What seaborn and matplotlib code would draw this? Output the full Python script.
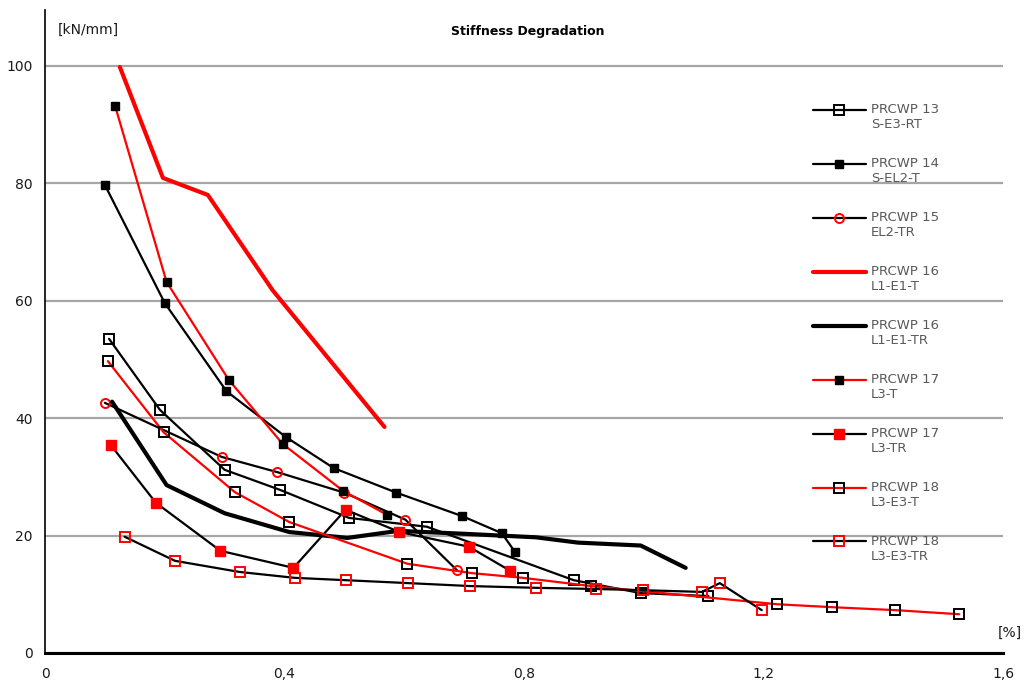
import matplotlib
matplotlib.use("Agg")
import matplotlib.pyplot as plt
import seaborn as sns
import pandas as pd

sns.set_style("white")
plt.rcParams['font.family'] = ['DejaVu Sans']

# ---- data (drift [%] vs stiffness [kN/mm]) ----
p13_x = [0.107, 0.192, 0.300, 0.392, 0.508, 0.638, 0.883, 0.995, 1.108]
p13_y = [53.5, 41.4, 31.2, 27.8, 23.0, 21.5, 12.4, 10.2, 9.7]

p14_x = [0.100, 0.200, 0.303, 0.402, 0.482, 0.587, 0.697, 0.763, 0.785]
p14_y = [79.7, 59.6, 44.6, 36.8, 31.5, 27.3, 23.3, 20.4, 17.2]

p15_x = [0.100, 0.295, 0.388, 0.500, 0.602, 0.688]
p15_y = [42.6, 33.4, 30.8, 27.3, 22.7, 14.1]

p16t_x = [0.125, 0.197, 0.272, 0.380, 0.567]
p16t_y = [99.8, 80.9, 78.0, 61.8, 38.5]

p16tr_x = [0.112, 0.203, 0.300, 0.408, 0.505, 0.590, 0.700, 0.820, 0.890, 0.995, 1.070]
p16tr_y = [42.8, 28.6, 23.8, 20.6, 19.6, 20.8, 20.3, 19.7, 18.8, 18.3, 14.5]

p17t_x = [0.117, 0.203, 0.307, 0.397, 0.498, 0.572]
p17t_y = [93.2, 63.2, 46.5, 35.6, 27.6, 23.5]

p17tr_x = [0.110, 0.185, 0.293, 0.415, 0.502, 0.592, 0.708, 0.777]
p17tr_y = [35.4, 25.6, 17.4, 14.5, 24.4, 20.6, 18.1, 14.0]

p18t_x = [0.105, 0.198, 0.317, 0.408, 0.605, 0.713, 0.798, 0.912, 1.223, 1.315, 1.420, 1.527]
p18t_y = [49.7, 37.6, 27.4, 22.3, 15.2, 13.6, 12.8, 11.4, 8.3, 7.8, 7.3, 6.6]

p18tr_x = [0.133, 0.217, 0.325, 0.417, 0.502, 0.607, 0.710, 0.820, 0.920, 0.998, 1.097, 1.127, 1.197]
p18tr_y = [19.8, 15.7, 13.8, 12.8, 12.4, 11.9, 11.4, 11.1, 10.9, 10.7, 10.4, 11.9, 7.3]

labels = ["PRCWP 13\nS-E3-RT", "PRCWP 14\nS-EL2-T", "PRCWP 15\nEL2-TR",
          "PRCWP 16\nL1-E1-T", "PRCWP 16\nL1-E1-TR", "PRCWP 17\nL3-T",
          "PRCWP 17\nL3-TR", "PRCWP 18\nL3-E3-T", "PRCWP 18\nL3-E3-TR"]
xs = [p13_x, p14_x, p15_x, p16t_x, p16tr_x, p17t_x, p17tr_x, p18t_x, p18tr_x]
ys = [p13_y, p14_y, p15_y, p16t_y, p16tr_y, p17t_y, p17tr_y, p18t_y, p18tr_y]

xtick_vals = [0, 0.4, 0.8, 1.2, 1.6]
xtick_labels = ["0", "0,4", "0,8", "1,2", "1,6"]
ytick_vals = [0, 20, 40, 60, 80, 100]

# ---- styles ----
RED = "#ff0000"
styles = [
    dict(color="black", lw=1.6, marker="s", ms=6.5, mfc="none", mec="black", mew=1.4),
    dict(color="black", lw=1.6, marker="s", ms=6, mfc="black", mec="black", mew=1),
    dict(color="black", lw=1.6, marker="o", ms=6.5, mfc="none", mec=RED, mew=1.4),
    dict(color=RED, lw=3.0, marker=None),
    dict(color="black", lw=3.0, marker=None),
    dict(color=RED, lw=1.6, marker="s", ms=6, mfc="black", mec="black", mew=1),
    dict(color="black", lw=1.6, marker="s", ms=7.5, mfc=RED, mec=RED, mew=1),
    dict(color=RED, lw=1.6, marker="s", ms=6.5, mfc="none", mec="black", mew=1.4),
    dict(color="black", lw=1.6, marker="s", ms=6.5, mfc="none", mec=RED, mew=1.4),
]

fig = plt.figure(figsize=(10.25, 6.8), dpi=100)
ax = fig.add_axes([45 / 1025, 1 - 653 / 680, (1003 - 45) / 1025, (653 - 10) / 680])

for lab, x, y, st in zip(labels, xs, ys, styles):
    df = pd.DataFrame({"x": x, "y": y})
    kw = dict(color=st["color"], linewidth=st["lw"])
    if st["marker"]:
        kw.update(marker=st["marker"], markersize=st["ms"], markerfacecolor=st["mfc"],
                  markeredgecolor=st["mec"], markeredgewidth=st["mew"])
    sns.lineplot(data=df, x="x", y="y", ax=ax, sort=False, estimator=None,
                 label="\n" + lab, **kw)

ax.set_xlim(0, 1.6)
ax.set_ylim(0, 109.5)
ax.set_xticks(xtick_vals)
ax.set_xticklabels(xtick_labels)
ax.set_yticks(ytick_vals)
ax.set_xlabel("")
ax.set_ylabel("")
ax.yaxis.grid(True, color="#a6a6a6", linewidth=1.6)
ax.xaxis.grid(False)
ax.set_axisbelow(True)
for s in ["top", "right"]:
    ax.spines[s].set_visible(False)
ax.spines["left"].set_color("black")
ax.spines["left"].set_linewidth(1.2)
ax.spines["bottom"].set_color("black")
ax.spines["bottom"].set_linewidth(2.2)
ax.tick_params(axis="both", length=0, labelsize=10, colors="#1a1a1a")
ax.tick_params(axis="x", pad=10)
ax.tick_params(axis="y", pad=9)

leg = ax.legend(loc="upper left", bbox_to_anchor=(813 / 1025, 1 - 88 / 680),
                bbox_transform=fig.transFigure, frameon=False, fontsize=9.5,
                handlelength=4.0, handletextpad=0.4, labelspacing=0.83,
                borderpad=0, borderaxespad=0, labelcolor="#595959")

fig.text(528 / 1025, 1 - 32 / 680, "Stiffness Degradation", ha="center", va="center",
         fontsize=9, fontweight="bold", color="black")
fig.text(58 / 1025, 1 - 30 / 680, "[kN/mm]", ha="left", va="center", fontsize=10,
         color="#1a1a1a")
fig.text(1022 / 1025, 1 - 633 / 680, "[%]", ha="right", va="center", fontsize=10,
         color="#1a1a1a")

fig.savefig("out.png", dpi=100)
